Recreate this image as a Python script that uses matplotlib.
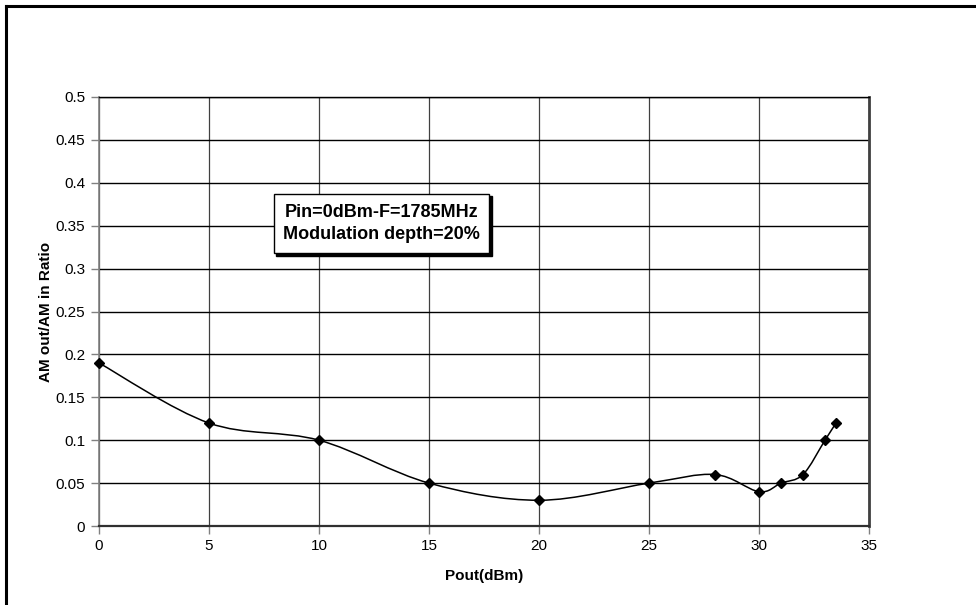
import numpy as np
import matplotlib
matplotlib.use("Agg")
import matplotlib.pyplot as plt
from matplotlib.lines import Line2D
from matplotlib.path import Path
from matplotlib.patches import PathPatch, Rectangle
import matplotlib.transforms as mtransforms

plt.rcParams["font.family"] = ["Liberation Sans", "DejaVu Sans"]

# measured AM/AM ratio vs output power
pout_dbm = [0, 5, 10, 15, 20, 25, 28, 30, 31, 32, 33, 33.5]
am_ratio = [0.19, 0.12, 0.10, 0.05, 0.03, 0.05, 0.06, 0.04, 0.05, 0.06, 0.10, 0.12]

x_ticks = [0, 5, 10, 15, 20, 25, 30, 35]
y_ticks = [0, 0.05, 0.1, 0.15, 0.2, 0.25, 0.3, 0.35, 0.4, 0.45, 0.5]
y_tick_labels = ["0", "0.05", "0.1", "0.15", "0.2", "0.25", "0.3", "0.35", "0.4", "0.45", "0.5"]

note = "Pin=0dBm-F=1785MHz\nModulation depth=20%"

W, H = 976, 605
fig = plt.figure(figsize=(W / 100, H / 100), dpi=100)
ax = fig.add_axes([99 / W, (H - 526) / H, (869 - 99) / W, (526 - 97) / H])

ax.set_xlim(0, 35)
ax.set_ylim(0, 0.5)
ax.set_xticks(x_ticks)
ax.set_yticks(y_ticks)
ax.set_yticklabels(y_tick_labels)
ax.tick_params(axis="both", labelsize=11, direction="out", length=6, width=1)
ax.tick_params(axis="y", colors="#808080", labelcolor="black", pad=4)
ax.tick_params(axis="x", colors="#808080", labelcolor="black", pad=3)

ax.grid(axis="y", color="black", lw=1.0)
ax.grid(axis="x", color="#404040", lw=0.9)
ax.set_axisbelow(True)

ax.spines["left"].set_color("#808080")
ax.spines["left"].set_linewidth(1.2)
ax.spines["bottom"].set_color("#303030")
ax.spines["bottom"].set_linewidth(1.6)
ax.spines["right"].set_color("#404040")
ax.spines["right"].set_linewidth(2.0)
ax.spines["top"].set_color("black")
ax.spines["top"].set_linewidth(1.0)

ax.set_xlabel("Pout(dBm)", fontsize=11, fontweight="bold", labelpad=12)
ax.set_ylabel("AM out/AM in Ratio", fontsize=11, fontweight="bold", labelpad=2)


# smoothed curve through the points (cubic Bezier, Catmull-Rom style)
def smooth_path(xs, ys, sx, sy):
    px = np.asarray(xs, float) * sx
    py = np.asarray(ys, float) * sy
    pts = np.column_stack([px, py])
    n = len(pts)
    verts = [pts[0]]
    codes = [Path.MOVETO]
    for i in range(n - 1):
        p0 = pts[i - 1] if i > 0 else pts[i]
        p1 = pts[i]
        p2 = pts[i + 1]
        p3 = pts[i + 2] if i + 2 < n else pts[i + 1]
        c1 = p1 + (p2 - p0) / 6.0
        c2 = p2 - (p3 - p1) / 6.0
        verts += [c1, c2, p2]
        codes += [Path.CURVE4] * 3
    verts = np.array(verts)
    verts[:, 0] /= sx
    verts[:, 1] /= sy
    return Path(verts, codes)


curve = smooth_path(pout_dbm, am_ratio, 22.0, 858.0)
ax.add_patch(PathPatch(curve, facecolor="none", edgecolor="black", lw=1.1, zorder=3))
ax.plot(pout_dbm, am_ratio, linestyle="none", marker="D", markersize=5,
        color="black", zorder=4, clip_on=False)

# annotation box with drop shadow
box_x, box_y, box_w, box_h = 7.95, 0.318, 9.78, 0.069
shadow = mtransforms.offset_copy(ax.transData, fig=fig, x=2.5, y=-2.5, units="dots")
ax.add_patch(Rectangle((box_x, box_y), box_w, box_h, transform=shadow,
                       facecolor="black", edgecolor="black", lw=1.0, zorder=5))
ax.add_patch(Rectangle((box_x, box_y), box_w, box_h, facecolor="white",
                       edgecolor="black", lw=1.0, zorder=6))
ax.text(box_x + box_w / 2, box_y + box_h / 2, note, fontsize=13, fontweight="bold",
        ha="center", va="center", linespacing=1.35, zorder=7)

# outer chart frame
fig.add_artist(Line2D([6 / W, 6 / W], [0, 1 - 6 / H], color="black", lw=2.2,
                      transform=fig.transFigure))
fig.add_artist(Line2D([6 / W, 1], [1 - 6 / H, 1 - 6 / H], color="black", lw=2.2,
                      transform=fig.transFigure))

fig.savefig("out.png", dpi=100)
